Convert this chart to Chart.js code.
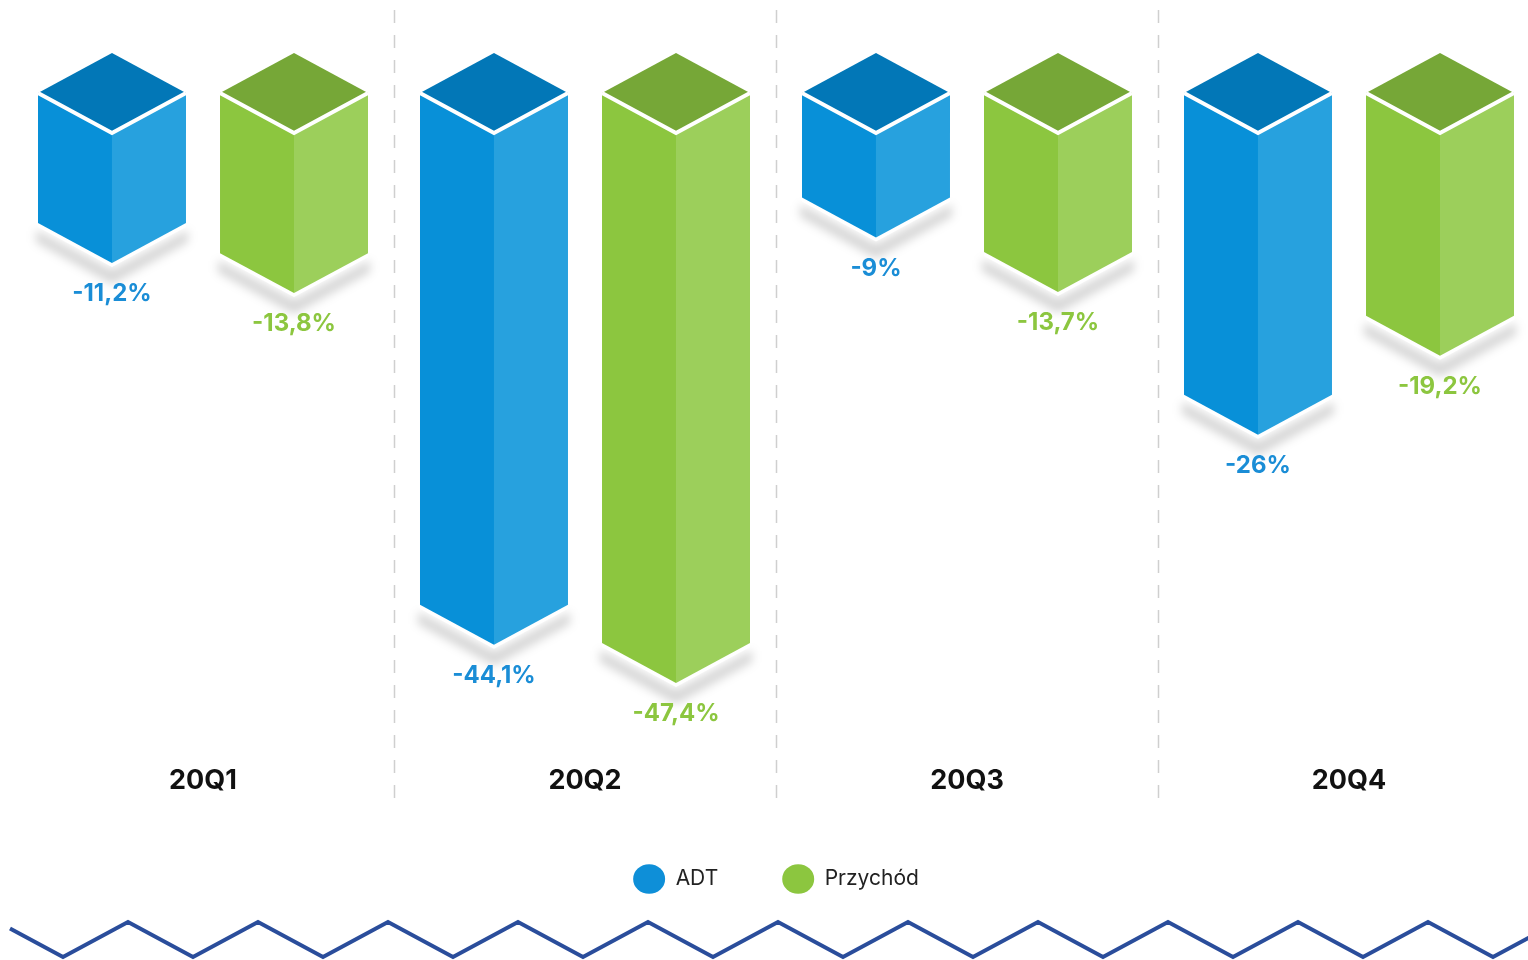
<!DOCTYPE html>
<html>
<head>
<meta charset="utf-8">
<script src="https://cdn.jsdelivr.net/npm/chart.js@4.4.1/dist/chart.umd.min.js"></script>
<style>
  html, body { margin: 0; padding: 0; background: #fff; overflow: hidden; }
  #wrap { position: relative; width: 1545px; height: 960px; }
</style>
</head>
<body>
<div id="wrap"><canvas id="myChart"></canvas></div>
<script>
var quarters = ["20Q1", "20Q2", "20Q3", "20Q4"];
var adtValues = [-11.2, -44.1, -9, -26];
var revenueValues = [-13.8, -47.4, -13.7, -19.2];
var seriesNames = ["ADT", "Przychód"];

var blueFaces = {top: "#0277b7", left: "#0890d8", right: "#27a1de", text: "#1a8dd6"};
var greenFaces = {top: "#76a737", left: "#8cc63f", right: "#9ccf5b", text: "#8cc63f"};
var faces = [blueFaces, greenFaces];
var fontName = "Inter, 'Open Sans', sans-serif";

function fmt(v) {
  return String(v).replace(".", ",") + "%";
}

function poly(ctx, pts) {
  ctx.beginPath();
  ctx.moveTo(pts[0][0], pts[0][1]);
  for (var i = 1; i < pts.length; i++) ctx.lineTo(pts[i][0], pts[i][1]);
  ctx.closePath();
}

// dashed lines between the quarters
var separators = {
  id: "separators",
  beforeDatasetsDraw: function(chart) {
    var ctx = chart.ctx, sc = chart.scales.x;
    ctx.save();
    ctx.strokeStyle = "#cfcfcf";
    ctx.lineWidth = 1.5;
    ctx.setLineDash([13, 12]);
    for (var i = 0; i < quarters.length - 1; i++) {
      var xx = Math.round((sc.getPixelForValue(i) + sc.getPixelForValue(i + 1)) / 2) + 0.5;
      ctx.beginPath();
      ctx.moveTo(xx, 10);
      ctx.lineTo(xx, 806);
      ctx.stroke();
    }
    ctx.restore();
  }
};

// isometric boxes drawn from the bar elements
var cubes = {
  id: "cubes",
  beforeDatasetDraw: function() { return false; },
  afterDatasetsDraw: function(chart) {
    var ctx = chart.ctx;
    chart.data.datasets.forEach(function(ds, di) {
      var meta = chart.getDatasetMeta(di);
      var f = faces[di];
      meta.data.forEach(function(bar, i) {
        var p = bar.getProps(["x", "y", "base", "width"], true);
        var x = p.x, hw = p.width / 2, d = hw * 0.54, top = p.base, tip = p.y;

        // shadow
        ctx.save();
        ctx.filter = "blur(5px)";
        ctx.fillStyle = "rgba(0,0,0,0.16)";
        poly(ctx, [[x - hw - 2, tip - d + 7], [x, tip + 7], [x + hw + 2, tip - d + 7],
                   [x + hw + 2, tip - d + 19], [x, tip + 21], [x - hw - 2, tip - d + 19]]);
        ctx.fill();
        ctx.restore();

        ctx.save();
        // white rim under the box
        ctx.fillStyle = "#fff";
        poly(ctx, [[x - hw, top - d], [x + hw, top - d], [x + hw, tip - d + 4], [x, tip + 4], [x - hw, tip - d + 4]]);
        ctx.fill();
        // left face
        ctx.fillStyle = f.left;
        poly(ctx, [[x - hw, top - d], [x, top], [x, tip], [x - hw, tip - d]]);
        ctx.fill();
        // right face
        ctx.fillStyle = f.right;
        poly(ctx, [[x, top], [x + hw, top - d], [x + hw, tip - d], [x, tip]]);
        ctx.fill();
        // top face
        ctx.fillStyle = f.top;
        poly(ctx, [[x, top - 2 * d], [x + hw, top - d], [x, top], [x - hw, top - d]]);
        ctx.fill();
        // white edge
        ctx.strokeStyle = "#fff";
        ctx.lineWidth = 4;
        ctx.lineJoin = "miter";
        ctx.beginPath();
        ctx.moveTo(x - hw, top - d);
        ctx.lineTo(x, top);
        ctx.lineTo(x + hw, top - d);
        ctx.stroke();

        // value label
        ctx.fillStyle = f.text;
        ctx.font = "bold 24px " + fontName;
        ctx.textAlign = "center";
        ctx.textBaseline = "middle";
        ctx.fillText(fmt(ds.data[i]), x, tip + 31);
        ctx.restore();
      });
    });
  }
};

// zigzag rule at the bottom
var zigzag = {
  id: "zigzag",
  afterDraw: function(chart) {
    var ctx = chart.ctx;
    ctx.save();
    ctx.strokeStyle = "#2a4d9b";
    ctx.lineWidth = 4;
    ctx.lineJoin = "miter";
    ctx.beginPath();
    ctx.moveTo(10, 928.5);
    for (var k = 0; k < 13; k++) {
      ctx.lineTo(63 + 130 * k, 957);
      ctx.lineTo(128 + 130 * k, 922);
    }
    ctx.stroke();
    ctx.restore();
  }
};

var chart = new Chart(document.getElementById("myChart"), {
  type: "bar",
  data: {
    labels: quarters,
    datasets: [
      {label: seriesNames[0], data: adtValues, backgroundColor: "#0e8fd8", borderWidth: 0,
       categoryPercentage: 0.953, barPercentage: 0.813},
      {label: seriesNames[1], data: revenueValues, backgroundColor: "#8cc63f", borderWidth: 0,
       categoryPercentage: 0.953, barPercentage: 0.813}
    ]
  },
  options: {
    animation: false,
    responsive: true,
    maintainAspectRatio: false,
    layout: {padding: {top: 133, left: 12, right: 5, bottom: 60.5}},
    scales: {
      x: {
        grid: {display: false},
        border: {display: false},
        ticks: {color: "#111", padding: -3, font: {family: fontName, size: 27, weight: "bold"}},
        afterFit: function(scale) { scale.height = 45; }
      },
      y: {display: false, min: -54, max: 0}
    },
    plugins: {
      legend: {
        position: "bottom",
        labels: {
          usePointStyle: true,
          pointStyle: "circle",
          pointStyleWidth: 32,
          boxHeight: 21,
          padding: 64,
          color: "#222",
          font: {family: fontName, size: 21}
        }
      },
      tooltip: {enabled: false}
    }
  },
  plugins: [separators, cubes, zigzag]
});
</script>
</body>
</html>
